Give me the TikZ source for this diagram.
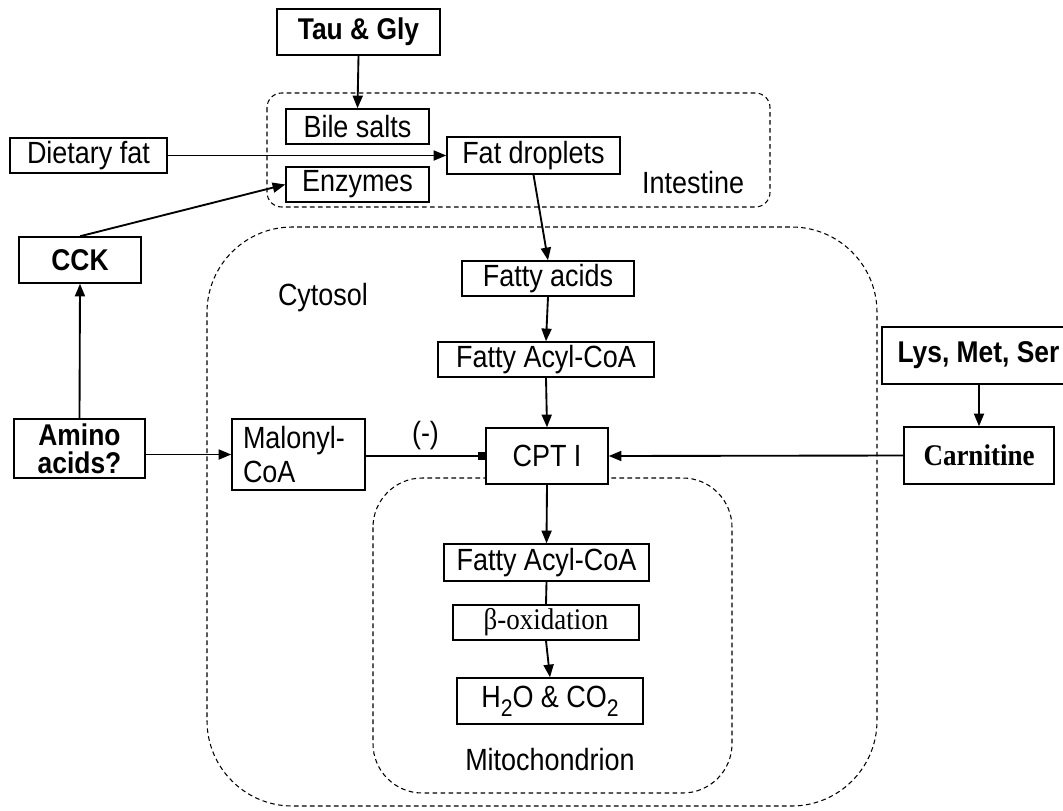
\documentclass[tikz,border=0pt]{standalone}
\usepackage{fontspec}
\setmainfont[FakeStretch=0.88]{Liberation Sans}
\newfontfamily\timesf[FakeStretch=0.9]{Liberation Serif}
\usetikzlibrary{arrows.meta}
\tikzset{
  x=0.75pt, y=-0.75pt,
  box/.style={draw, line width=1.1pt, fill=white, inner sep=0pt, font=\fontsize{23}{25}\selectfont},
  bbox/.style={box, font=\fontsize{22.5}{25}\selectfont\bfseries},
  region/.style={draw, line width=0.8pt, dash pattern=on 3.5pt off 2.5pt},
  lbl/.style={font=\fontsize{23}{25}\selectfont, inner sep=0pt},
  arr/.style={line width=1.4pt, -{Triangle[length=9.5pt,width=7.5pt]}},
  inh/.style={line width=1.4pt, -{Square[length=5.5pt,width=6.5pt]}},
  conn/.style={line width=1.4pt}
}
\begin{document}
\begin{tikzpicture}
\useasboundingbox (0,0) rectangle (1063,810);
\clip (0,0) rectangle (1063,810);
\fill[white] (0,0) rectangle (1063,810);
% regions
\draw[region, rounded corners=11pt] (267,93) rectangle (770,207);
\draw[region, rounded corners=64pt] (207,227) rectangle (877,806);
\draw[region, rounded corners=37pt] (373,478) rectangle (732,793);
\node[lbl] (intl) at (693,183) {Intestine};
\node[lbl] (cytl) at (323,298) {Cytosol};
\node[lbl] (mitl) at (550,760) {Mitochondrion};
% nodes
\node[bbox, minimum width=122.25pt, minimum height=34.5pt] (tau) at (358.5,32) {Tau \& Gly};
\node[box, minimum width=107.25pt, minimum height=26.25pt] (bile) at (357.5,126.5) {Bile salts};
\node[box, minimum width=129.75pt, minimum height=27.75pt] (fatdrop) at (533.5,155.5) {Fat droplets};
\node[box, minimum width=107.25pt, minimum height=26.25pt] (enz) at (357.5,184.5) {Enzymes};
\node[box, minimum width=117.75pt, minimum height=26.25pt] (diet) at (88.5,155.5) {Dietary fat};
\node[bbox, minimum width=91.5pt, minimum height=34.5pt] (cck) at (80,260) {CCK};
\node[bbox, minimum width=98.25pt, minimum height=44.25pt, align=center, font=\fontsize{22.5}{21}\selectfont\bfseries] (amino) at (79.5,448.5) {Amino\\acids?};
\node[box, minimum height=53.25pt, text width=83.25pt, inner xsep=8.25pt, align=left, font=\fontsize{23}{25.5}\selectfont] (mal) at (298.5,454.5) {Malonyl-\\CoA};
\node[box, minimum width=129pt, minimum height=26.25pt] (fa) at (548,278.5) {Fatty acids};
\node[box, minimum width=162pt, minimum height=26.25pt] (fac1) at (546,359.5) {Fatty Acyl-CoA};
\node[box, minimum width=91.5pt, minimum height=42pt] (cpt) at (547,456) {CPT I};
\node[box, minimum width=153.75pt, minimum height=27.75pt] (fac2) at (546.5,562.5) {Fatty Acyl-CoA};
\node[box, minimum width=139.5pt, minimum height=26.25pt, font=\fontsize{22.5}{25}\selectfont\timesf] (beta) at (546,622.5) {β-oxidation};
\node[box, minimum width=139.5pt, minimum height=34.5pt] (h2o) at (550,701) {H\raisebox{-7pt}{\fontsize{18}{18}\selectfont 2}O \& CO\raisebox{-7pt}{\fontsize{18}{18}\selectfont 2}};
\node[bbox, minimum width=144.75pt, minimum height=42.75pt] (lys) at (978.5,355.5) {Lys, Met, Ser};
\node[box, minimum width=112.5pt, minimum height=42.75pt, font=\fontsize{22.5}{25}\selectfont\timesf\bfseries] (carn) at (979,455.5) {Carnitine};
% connectors
\draw[arr] (tau.south) -- (bile.north);
\draw[arr] (diet.east) -- (fatdrop.west);
\draw[arr] (cck.north) -- (enz.west);
\draw[arr] (amino.north) -- (cck.south);
\draw[arr] (amino.east |- mal.west) -- (mal.west);
\draw[arr] (fatdrop.south) -- (fa.north);
\draw[arr] (fa.south) -- (fac1.north);
\draw[arr] (fac1.south) -- (cpt.north);
\draw[inh] (mal.east |- cpt.west) -- node[lbl, above=4pt] (neg) {(-)} (cpt.west);
\draw[arr] (carn.west) -- (cpt.east);
\draw[arr] (carn.north |- lys.south) -- (carn.north);
\draw[arr] (cpt.south) -- (fac2.north);
\draw[conn] (fac2.south) -- (beta.north);
\draw[arr] (beta.south) -- (h2o.north);
\end{tikzpicture}
\end{document}
